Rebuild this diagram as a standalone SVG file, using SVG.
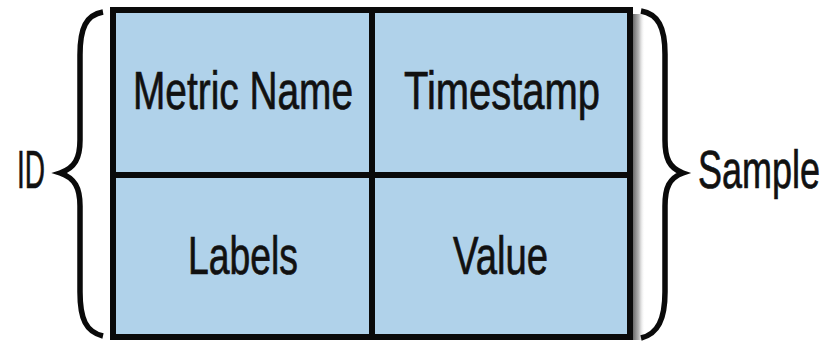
<svg xmlns="http://www.w3.org/2000/svg" width="829" height="346" viewBox="0 0 829 346">
<defs>
<style>
.cell{fill:#b0d2ea;}
.line{stroke:#0a0a0a;stroke-width:6;fill:none;}
.brace{stroke:#0a0a0a;stroke-width:5.5;fill:none;stroke-linecap:butt;}
.t{font-family:"Liberation Sans Narrow","Liberation Sans",Arial,sans-serif;font-size:53px;fill:#111;stroke:#111;stroke-width:0.7;}
</style>
<linearGradient id="sh" x1="0" y1="0" x2="1" y2="0">
<stop offset="0" stop-color="#6a6a6a"/>
<stop offset="0.5" stop-color="#b8b8b8"/>
<stop offset="1" stop-color="#ffffff" stop-opacity="0"/>
</linearGradient>
</defs>
<rect width="829" height="346" fill="#ffffff"/>
<rect x="633" y="14" width="12" height="326" fill="url(#sh)"/>
<g id="table">
<rect class="cell" x="113" y="10" width="517" height="327"/>
</g>
<g id="metric-name"><text class="t" x="133" y="109" textLength="220" lengthAdjust="spacingAndGlyphs">Metric Name</text></g>
<g id="timestamp"><text class="t" x="404" y="109" textLength="196" lengthAdjust="spacingAndGlyphs">Timestamp</text></g>
<g id="labels"><text class="t" x="188" y="274" textLength="110" lengthAdjust="spacingAndGlyphs">Labels</text></g>
<g id="value"><text class="t" x="453" y="274" textLength="95" lengthAdjust="spacingAndGlyphs">Value</text></g>
<g id="connectors">
<rect class="line" x="113" y="10" width="517" height="327"/>
<line class="line" x1="113" y1="175" x2="630" y2="175"/>
<line class="line" x1="372" y1="10" x2="372" y2="337"/>
<path class="brace" d="M103,12 C86,15 80,28 80,55 L80,140 C80,158 75,168 60,173 C75,178 80,188 80,206 L80,292 C80,319 86,332 103,336"/>
<path class="brace" d="M641,11 C658,14 665,27 665,54 L665,140 C665,158 669,168 683,173 C669,178 665,188 665,206 L665,292 C665,319 658,334 641,338"/>
</g>
<g id="id-label"><text class="t" x="17" y="188" textLength="28" lengthAdjust="spacingAndGlyphs">ID</text></g>
<g id="sample-label"><text class="t" x="698" y="188" textLength="122" lengthAdjust="spacingAndGlyphs">Sample</text></g>
</svg>
